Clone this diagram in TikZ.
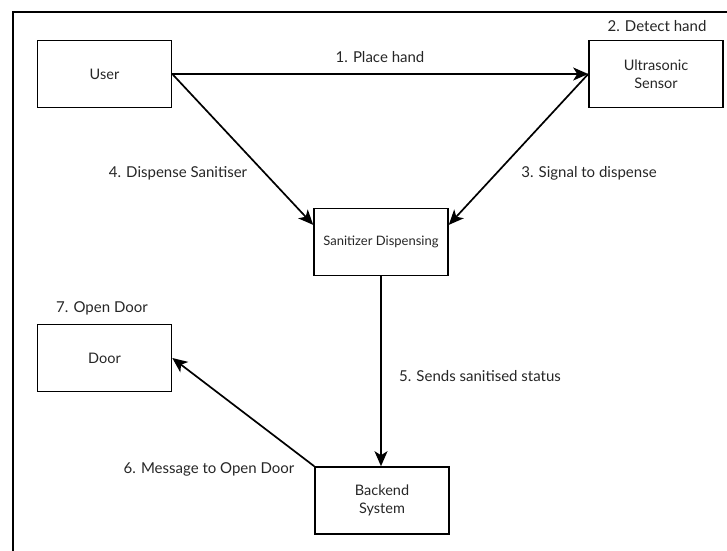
\documentclass[tikz,border=0pt]{standalone}
\usepackage{fontspec}
\setmainfont{Lato}
\usetikzlibrary{arrows.meta,calc}
\begin{document}
\begin{tikzpicture}[x=1pt,y=-1pt,
  box/.style={draw=black,line width=1.6pt,rectangle,minimum width=134pt,minimum height=67pt,align=center,inner sep=2pt,font=\fontsize{14.5}{18}\selectfont,text=black!85},
  lbl/.style={font=\fontsize{15}{18}\selectfont,text=black!85,inner sep=0pt},
  arr/.style={line width=1.7pt,-{Stealth[length=15pt,width=13pt,inset=4pt]}}]
\useasboundingbox (0,0) rectangle (727,550);
\draw[line width=2pt] (13,551) -- (13,12) -- (728,12);
\node[box] (user) at (104.5,74) {User};
\node[box] (sensor) at (656,74) {Ultrasonic\\Sensor};
\node[box,font=\fontsize{13}{16}\selectfont] (san) at (381,242) {Sanitizer Dispensing};
\node[box] (door) at (104.5,358) {Door};
\node[box] (backend) at (382,500.5) {Backend\\System};
\coordinate (sanL) at ($(san.north west)!0.25!(san.south west)$);
\coordinate (sanR) at ($(san.north east)!0.25!(san.south east)$);
\draw[arr] (user.east) -- (sensor.west);
\draw[arr] (user.east) -- (sanL);
\draw[arr] (sensor.west) -- (sanR);
\draw[arr] (san.south) -- (san.south |- backend.north);
\draw[arr] (backend.north west) -- (door.east);
\node[lbl] (l1) at (380,57) {1. Place hand};
\node[lbl] (l2) at (657,26) {2. Detect hand};
\node[lbl] (l3) at (589,173) {3. Signal to dispense};
\node[lbl] (l4) at (178,173) {4. Dispense Sanitiser};
\node[lbl] (l5) at (480,376) {5. Sends sanitised status};
\node[lbl] (l6) at (209,469) {6. Message to Open Door};
\node[lbl] (l7) at (102,308) {7. Open Door};
\end{tikzpicture}
\end{document}
